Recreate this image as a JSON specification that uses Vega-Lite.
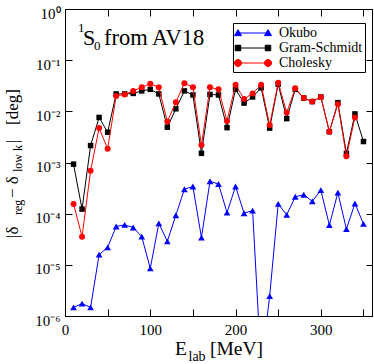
{
  "$schema": "https://vega.github.io/schema/vega-lite/v6.json",
  "width": 307,
  "height": 307,
  "autosize": {"type": "none"},
  "padding": {"left": 65, "top": 9, "right": 2, "bottom": 48},
  "config": {"view": {"stroke": "black", "strokeWidth": 1}, "font": "Liberation Serif"},
  "datasets": {
    "pts": [
      {"E": 10, "series": "Okubo", "v": 1.48e-6},
      {"E": 20, "series": "Okubo", "v": 1.74e-6},
      {"E": 30, "series": "Okubo", "v": 1.48e-6},
      {"E": 40, "series": "Okubo", "v": 1.58e-5},
      {"E": 50, "series": "Okubo", "v": 2.19e-5},
      {"E": 60, "series": "Okubo", "v": 5.62e-5},
      {"E": 70, "series": "Okubo", "v": 6.03e-5},
      {"E": 80, "series": "Okubo", "v": 5.37e-5},
      {"E": 90, "series": "Okubo", "v": 3.55e-5},
      {"E": 100, "series": "Okubo", "v": 8.5e-6},
      {"E": 110, "series": "Okubo", "v": 6.46e-5},
      {"E": 120, "series": "Okubo", "v": 2.88e-5},
      {"E": 130, "series": "Okubo", "v": 9.3e-5},
      {"E": 140, "series": "Okubo", "v": 3.0e-4},
      {"E": 150, "series": "Okubo", "v": 3.4e-4},
      {"E": 160, "series": "Okubo", "v": 3.4e-5},
      {"E": 170, "series": "Okubo", "v": 4.3e-4},
      {"E": 180, "series": "Okubo", "v": 3.8e-4},
      {"E": 190, "series": "Okubo", "v": 1.05e-4},
      {"E": 200, "series": "Okubo", "v": 3.4e-4},
      {"E": 210, "series": "Okubo", "v": 1.02e-4},
      {"E": 220, "series": "Okubo", "v": 1.15e-4},
      {"E": 230, "series": "Okubo", "v": 1.0e-7},
      {"E": 240, "series": "Okubo", "v": 2.45e-6},
      {"E": 250, "series": "Okubo", "v": 1.55e-4},
      {"E": 260, "series": "Okubo", "v": 9.5e-5},
      {"E": 270, "series": "Okubo", "v": 2.14e-4},
      {"E": 280, "series": "Okubo", "v": 2.34e-4},
      {"E": 290, "series": "Okubo", "v": 1.74e-4},
      {"E": 300, "series": "Okubo", "v": 2.88e-4},
      {"E": 310, "series": "Okubo", "v": 6.0e-5},
      {"E": 320, "series": "Okubo", "v": 2.57e-4},
      {"E": 330, "series": "Okubo", "v": 5.0e-5},
      {"E": 340, "series": "Okubo", "v": 1.58e-4},
      {"E": 350, "series": "Okubo", "v": 6.3e-5},
      {"E": 10, "series": "Gram-Schmidt", "v": 9.3e-4},
      {"E": 20, "series": "Gram-Schmidt", "v": 1.23e-4},
      {"E": 30, "series": "Gram-Schmidt", "v": 2.14e-3},
      {"E": 40, "series": "Gram-Schmidt", "v": 7.6e-3},
      {"E": 50, "series": "Gram-Schmidt", "v": 3.9e-3},
      {"E": 60, "series": "Gram-Schmidt", "v": 0.0219},
      {"E": 70, "series": "Gram-Schmidt", "v": 0.0219},
      {"E": 80, "series": "Gram-Schmidt", "v": 0.0224},
      {"E": 90, "series": "Gram-Schmidt", "v": 0.0251},
      {"E": 100, "series": "Gram-Schmidt", "v": 0.0269},
      {"E": 110, "series": "Gram-Schmidt", "v": 0.0219},
      {"E": 120, "series": "Gram-Schmidt", "v": 4.9e-3},
      {"E": 130, "series": "Gram-Schmidt", "v": 0.0112},
      {"E": 140, "series": "Gram-Schmidt", "v": 0.0251},
      {"E": 150, "series": "Gram-Schmidt", "v": 0.0209},
      {"E": 160, "series": "Gram-Schmidt", "v": 1.51e-3},
      {"E": 170, "series": "Gram-Schmidt", "v": 0.0214},
      {"E": 180, "series": "Gram-Schmidt", "v": 0.0209},
      {"E": 190, "series": "Gram-Schmidt", "v": 4.8e-3},
      {"E": 200, "series": "Gram-Schmidt", "v": 0.0269},
      {"E": 210, "series": "Gram-Schmidt", "v": 0.0145},
      {"E": 220, "series": "Gram-Schmidt", "v": 0.0191},
      {"E": 230, "series": "Gram-Schmidt", "v": 0.0288},
      {"E": 240, "series": "Gram-Schmidt", "v": 4.7e-3},
      {"E": 250, "series": "Gram-Schmidt", "v": 0.0339},
      {"E": 260, "series": "Gram-Schmidt", "v": 7.2e-3},
      {"E": 270, "series": "Gram-Schmidt", "v": 0.0269},
      {"E": 280, "series": "Gram-Schmidt", "v": 0.0182},
      {"E": 290, "series": "Gram-Schmidt", "v": 0.0155},
      {"E": 300, "series": "Gram-Schmidt", "v": 0.0191},
      {"E": 310, "series": "Gram-Schmidt", "v": 4.0e-3},
      {"E": 320, "series": "Gram-Schmidt", "v": 0.0148},
      {"E": 330, "series": "Gram-Schmidt", "v": 1.51e-3},
      {"E": 340, "series": "Gram-Schmidt", "v": 8.9e-3},
      {"E": 350, "series": "Gram-Schmidt", "v": 2.57e-3},
      {"E": 10, "series": "Cholesky", "v": 1.55e-4},
      {"E": 20, "series": "Cholesky", "v": 3.55e-5},
      {"E": 30, "series": "Cholesky", "v": 6.9e-4},
      {"E": 40, "series": "Cholesky", "v": 4.7e-3},
      {"E": 50, "series": "Cholesky", "v": 1.86e-3},
      {"E": 60, "series": "Cholesky", "v": 0.02},
      {"E": 70, "series": "Cholesky", "v": 0.0214},
      {"E": 80, "series": "Cholesky", "v": 0.0251},
      {"E": 90, "series": "Cholesky", "v": 0.0295},
      {"E": 100, "series": "Cholesky", "v": 0.0347},
      {"E": 110, "series": "Cholesky", "v": 0.0295},
      {"E": 120, "series": "Cholesky", "v": 6.3e-3},
      {"E": 130, "series": "Cholesky", "v": 0.0151},
      {"E": 140, "series": "Cholesky", "v": 0.0355},
      {"E": 150, "series": "Cholesky", "v": 0.0295},
      {"E": 160, "series": "Cholesky", "v": 2.19e-3},
      {"E": 170, "series": "Cholesky", "v": 0.0295},
      {"E": 180, "series": "Cholesky", "v": 0.0269},
      {"E": 190, "series": "Cholesky", "v": 6.5e-3},
      {"E": 200, "series": "Cholesky", "v": 0.0331},
      {"E": 210, "series": "Cholesky", "v": 0.0174},
      {"E": 220, "series": "Cholesky", "v": 0.0224},
      {"E": 230, "series": "Cholesky", "v": 0.0331},
      {"E": 240, "series": "Cholesky", "v": 5.4e-3},
      {"E": 250, "series": "Cholesky", "v": 0.0363},
      {"E": 260, "series": "Cholesky", "v": 9.5e-3},
      {"E": 270, "series": "Cholesky", "v": 0.0282},
      {"E": 280, "series": "Cholesky", "v": 0.0182},
      {"E": 290, "series": "Cholesky", "v": 0.0155},
      {"E": 300, "series": "Cholesky", "v": 0.0191},
      {"E": 310, "series": "Cholesky", "v": 4.0e-3},
      {"E": 320, "series": "Cholesky", "v": 0.0138},
      {"E": 330, "series": "Cholesky", "v": 1.32e-3},
      {"E": 340, "series": "Cholesky", "v": 7.6e-3}
    ]
  },
  "layer": [
    {
      "data": {"name": "pts"},
      "transform": [{"filter": "datum.series === 'Okubo'"}],
      "mark": {"type": "line", "clip": true, "strokeWidth": 1},
      "encoding": {
        "x": {
          "field": "E", "type": "quantitative",
          "scale": {"domain": [0, 360], "nice": false, "zero": false},
          "axis": {
            "orient": "bottom", "title": null, "grid": false,
            "values": [0, 50, 100, 150, 200, 250, 300, 350],
            "labelExpr": "datum.value % 100 === 0 ? datum.label : ''",
            "labelFlush": false, "labelOverlap": false,
            "labelFont": "Liberation Serif", "labelFontSize": 15, "labelColor": "black",
            "tickSize": -7, "labelPadding": 13, "tickColor": "black", "domainColor": "black",
            "encode": {"ticks": {"update": {"y2": {"signal": "datum.value % 100 === 0 ? -7 : -4"}}}}
          }
        },
        "y": {
          "field": "v", "type": "quantitative",
          "scale": {"type": "log", "domain": [0.000001, 1], "nice": false},
          "axis": {
            "orient": "left", "title": null, "grid": false,
            "values": [0.000001, 0.00001, 0.0001, 0.001, 0.01, 0.1, 1],
            "labelExpr": "['10⁰','10⁻¹','10⁻²','10⁻³','10⁻⁴','10⁻⁵','10⁻⁶'][round(-log(datum.value)/LN10)]",
            "labelFlush": false, "labelOverlap": false,
            "labelFont": "Liberation Serif", "labelFontSize": 15, "labelColor": "black",
            "labelOffset": 4,
            "tickSize": -7, "labelPadding": 12, "tickColor": "black", "domainColor": "black"
          }
        },
        "color": {
          "field": "series", "type": "nominal",
          "scale": {"domain": ["Okubo", "Gram-Schmidt", "Cholesky"], "range": ["#0000ff", "#000000", "#ff0000"]},
          "legend": {
            "orient": "none", "legendX": 168, "legendY": 14, "direction": "vertical",
            "title": null, "strokeColor": "black", "fillColor": "white", "padding": 2,
            "symbolSize": 225, "symbolOffset": 10, "labelOffset": 18, "rowPadding": 0,
            "labelFont": "Liberation Serif", "labelFontSize": 14, "labelColor": "black",
            "encode": {
              "symbols": {
                "update": {
                  "shape": {"signal": "datum.value === 'Okubo' ? 'M-2,0L2,0M-2,-0.45L-1.53,0.35L-2.47,0.35ZM2,-0.45L2.47,0.35L1.53,0.35Z' : datum.value === 'Gram-Schmidt' ? 'M-2,0L2,0M-2.37,-0.37L-1.63,-0.37L-1.63,0.37L-2.37,0.37ZM1.63,-0.37L2.37,-0.37L2.37,0.37L1.63,0.37Z' : 'M-2,0L2,0M-2.47,0A0.47,0.47,0,1,1,-1.53,0A0.47,0.47,0,1,1,-2.47,0ZM1.53,0A0.47,0.47,0,1,1,2.47,0A0.47,0.47,0,1,1,1.53,0Z'"},
                  "fill": {"scale": "color", "field": "value"},
                  "stroke": {"scale": "color", "field": "value"},
                  "strokeWidth": {"value": 1},
                  "opacity": {"value": 1},
                  "fillOpacity": {"value": 1}
                }
              }
            }
          }
        }
      }
    },
    {
      "data": {"name": "pts"},
      "transform": [{"filter": "datum.series === 'Okubo'"}],
      "mark": {"type": "point", "clip": true, "shape": "triangle-up", "filled": true, "size": 45, "opacity": 1},
      "encoding": {
        "x": {"field": "E", "type": "quantitative", "axis": null},
        "y": {"field": "v", "type": "quantitative", "axis": null},
        "color": {"field": "series", "type": "nominal", "legend": null}
      }
    },
    {
      "data": {"name": "pts"},
      "transform": [{"filter": "datum.series === 'Gram-Schmidt'"}],
      "mark": {"type": "line", "clip": true, "strokeWidth": 1},
      "encoding": {
        "x": {
          "field": "E", "type": "quantitative",
          "axis": {
            "orient": "top", "title": null, "grid": false, "labels": false,
            "values": [0, 50, 100, 150, 200, 250, 300, 350],
            "tickSize": -7, "tickColor": "black", "domainColor": "black",
            "encode": {"ticks": {"update": {"y2": {"signal": "datum.value % 100 === 0 ? 7 : 4"}}}}
          }
        },
        "y": {
          "field": "v", "type": "quantitative",
          "axis": {
            "orient": "right", "title": null, "grid": false, "labels": false,
            "values": [0.000001, 0.00001, 0.0001, 0.001, 0.01, 0.1, 1],
            "tickSize": -6, "tickColor": "black", "domainColor": "black"
          }
        },
        "color": {"field": "series", "type": "nominal", "legend": null}
      }
    },
    {
      "data": {"name": "pts"},
      "transform": [{"filter": "datum.series === 'Gram-Schmidt'"}],
      "mark": {"type": "point", "clip": true, "shape": "square", "filled": true, "size": 30, "opacity": 1},
      "encoding": {
        "x": {"field": "E", "type": "quantitative", "axis": null},
        "y": {"field": "v", "type": "quantitative", "axis": null},
        "color": {"field": "series", "type": "nominal", "legend": null}
      }
    },
    {
      "data": {"name": "pts"},
      "transform": [{"filter": "datum.series === 'Cholesky'"}],
      "mark": {"type": "line", "clip": true, "strokeWidth": 1},
      "encoding": {
        "x": {"field": "E", "type": "quantitative", "axis": null},
        "y": {"field": "v", "type": "quantitative", "axis": null},
        "color": {"field": "series", "type": "nominal", "legend": null}
      }
    },
    {
      "data": {"name": "pts"},
      "transform": [{"filter": "datum.series === 'Cholesky'"}],
      "mark": {"type": "point", "clip": true, "shape": "circle", "filled": true, "size": 36, "opacity": 1},
      "encoding": {
        "x": {"field": "E", "type": "quantitative", "axis": null},
        "y": {"field": "v", "type": "quantitative", "axis": null},
        "color": {"field": "series", "type": "nominal", "legend": null}
      }
    },
    {
      "data": {"values": [{"t": "1"}]},
      "mark": {"type": "text", "font": "Liberation Serif", "fontSize": 13, "align": "left", "baseline": "alphabetic", "dx": 13, "dy": 23, "color": "black"},
      "encoding": {"x": {"datum": 0, "type": "quantitative", "axis": null}, "y": {"datum": 1, "type": "quantitative", "axis": null}, "text": {"field": "t"}}
    },
    {
      "data": {"values": [{"t": "S"}]},
      "mark": {"type": "text", "font": "Liberation Serif", "fontSize": 22, "align": "left", "baseline": "alphabetic", "dx": 18, "dy": 36, "color": "black"},
      "encoding": {"x": {"datum": 0, "type": "quantitative", "axis": null}, "y": {"datum": 1, "type": "quantitative", "axis": null}, "text": {"field": "t"}}
    },
    {
      "data": {"values": [{"t": "0"}]},
      "mark": {"type": "text", "font": "Liberation Serif", "fontSize": 13, "align": "left", "baseline": "alphabetic", "dx": 29, "dy": 41, "color": "black"},
      "encoding": {"x": {"datum": 0, "type": "quantitative", "axis": null}, "y": {"datum": 1, "type": "quantitative", "axis": null}, "text": {"field": "t"}}
    },
    {
      "data": {"values": [{"t": "from AV18"}]},
      "mark": {"type": "text", "font": "Liberation Serif", "fontSize": 22.5, "align": "left", "baseline": "alphabetic", "dx": 39, "dy": 36, "color": "black"},
      "encoding": {"x": {"datum": 0, "type": "quantitative", "axis": null}, "y": {"datum": 1, "type": "quantitative", "axis": null}, "text": {"field": "t"}}
    },
    {
      "data": {"values": [{"t": "E"}]},
      "mark": {"type": "text", "font": "Liberation Serif", "fontSize": 19.5, "align": "left", "baseline": "alphabetic", "dx": 110, "dy": 39, "color": "black"},
      "encoding": {"x": {"datum": 0, "type": "quantitative", "axis": null}, "y": {"datum": 0.000001, "type": "quantitative", "axis": null}, "text": {"field": "t"}}
    },
    {
      "data": {"values": [{"t": "lab"}]},
      "mark": {"type": "text", "font": "Liberation Serif", "fontSize": 14, "align": "left", "baseline": "alphabetic", "dx": 123.5, "dy": 45, "color": "black"},
      "encoding": {"x": {"datum": 0, "type": "quantitative", "axis": null}, "y": {"datum": 0.000001, "type": "quantitative", "axis": null}, "text": {"field": "t"}}
    },
    {
      "data": {"values": [{"t": "[MeV]"}]},
      "mark": {"type": "text", "font": "Liberation Serif", "fontSize": 19.5, "align": "left", "baseline": "alphabetic", "dx": 145, "dy": 39, "color": "black"},
      "encoding": {"x": {"datum": 0, "type": "quantitative", "axis": null}, "y": {"datum": 0.000001, "type": "quantitative", "axis": null}, "text": {"field": "t"}}
    },
    {
      "data": {"values": [{"t": "|δ"}]},
      "mark": {"type": "text", "font": "Liberation Serif", "fontSize": 17, "align": "left", "baseline": "alphabetic", "angle": 270, "dy": -47, "color": "black"},
      "encoding": {"x": {"datum": 0, "type": "quantitative", "axis": null}, "y": {"datum": 0.0000335, "type": "quantitative", "axis": null}, "text": {"field": "t"}}
    },
    {
      "data": {"values": [{"t": "reg"}]},
      "mark": {"type": "text", "font": "Liberation Serif", "fontSize": 12, "align": "left", "baseline": "alphabetic", "angle": 270, "dy": -43, "color": "black"},
      "encoding": {"x": {"datum": 0, "type": "quantitative", "axis": null}, "y": {"datum": 0.0000942, "type": "quantitative", "axis": null}, "text": {"field": "t"}}
    },
    {
      "data": {"values": [{"t": "− δ"}]},
      "mark": {"type": "text", "font": "Liberation Serif", "fontSize": 17, "align": "left", "baseline": "alphabetic", "angle": 270, "dy": -47, "color": "black"},
      "encoding": {"x": {"datum": 0, "type": "quantitative", "axis": null}, "y": {"datum": 0.000202, "type": "quantitative", "axis": null}, "text": {"field": "t"}}
    },
    {
      "data": {"values": [{"t": "low k"}]},
      "mark": {"type": "text", "font": "Liberation Serif", "fontSize": 12, "align": "left", "baseline": "alphabetic", "angle": 270, "dy": -43, "color": "black"},
      "encoding": {"x": {"datum": 0, "type": "quantitative", "axis": null}, "y": {"datum": 0.000652, "type": "quantitative", "axis": null}, "text": {"field": "t"}}
    },
    {
      "data": {"values": [{"t": "|"}]},
      "mark": {"type": "text", "font": "Liberation Serif", "fontSize": 17, "align": "left", "baseline": "alphabetic", "angle": 270, "dy": -47, "color": "black"},
      "encoding": {"x": {"datum": 0, "type": "quantitative", "axis": null}, "y": {"datum": 0.0024, "type": "quantitative", "axis": null}, "text": {"field": "t"}}
    },
    {
      "data": {"values": [{"t": "[deg]"}]},
      "mark": {"type": "text", "font": "Liberation Serif", "fontSize": 17, "align": "left", "baseline": "alphabetic", "angle": 270, "dy": -47, "color": "black"},
      "encoding": {"x": {"datum": 0, "type": "quantitative", "axis": null}, "y": {"datum": 0.00541, "type": "quantitative", "axis": null}, "text": {"field": "t"}}
    }
  ],
  "resolve": {"axis": {"x": "independent", "y": "independent"}}
}
